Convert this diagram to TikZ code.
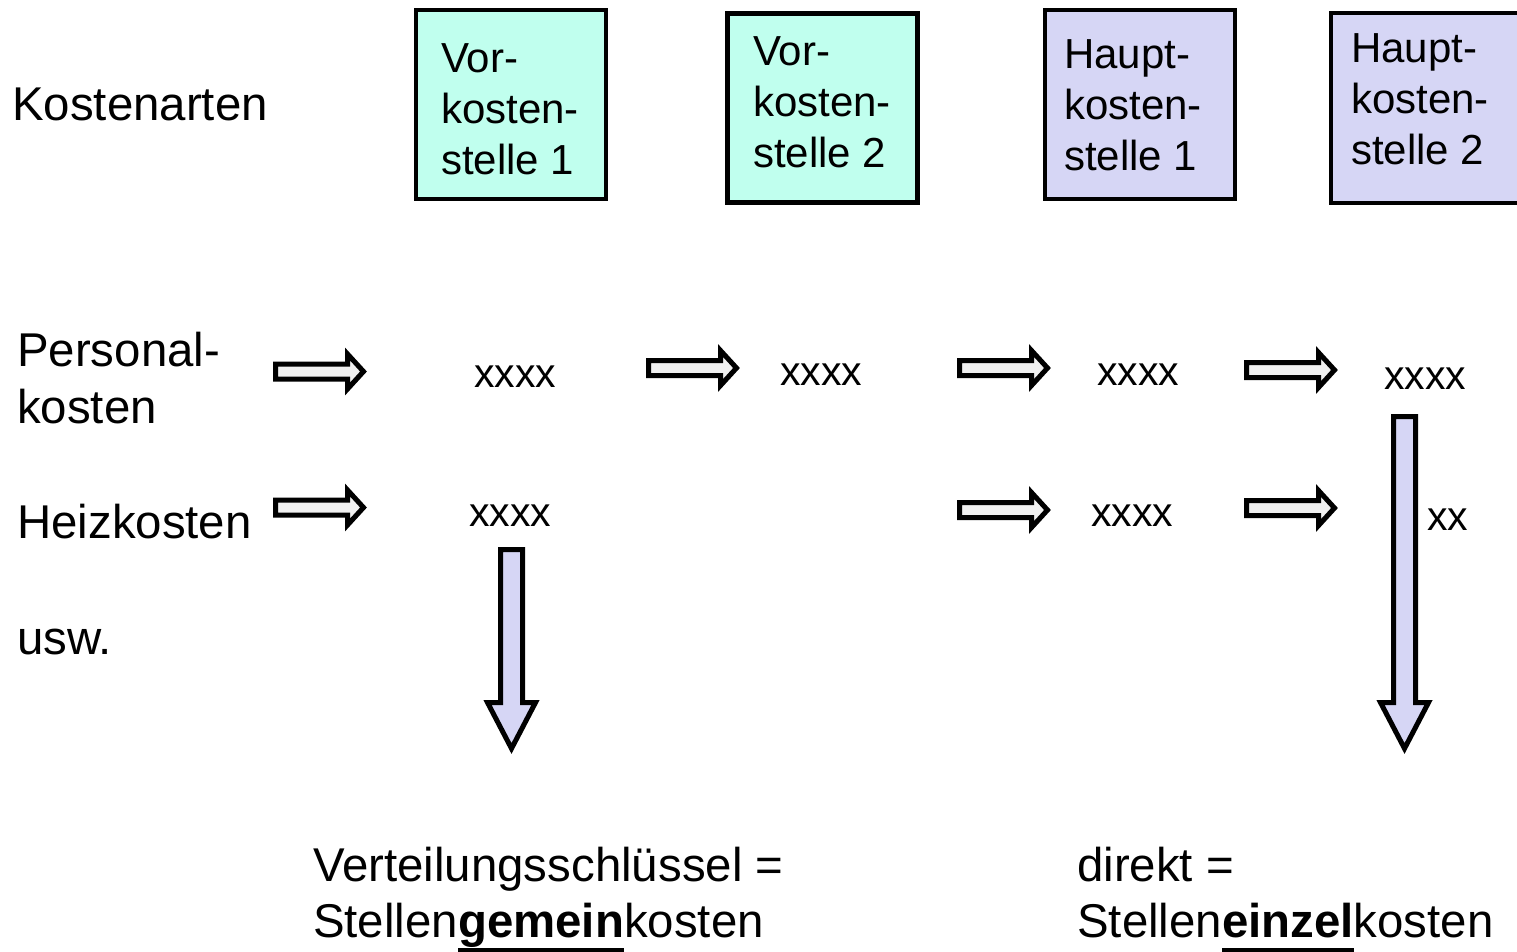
\documentclass[tikz,border=0pt]{standalone}
\usepackage{fontspec}
\setmainfont{Liberation Sans}

\definecolor{vorfill}{RGB}{192,255,238}
\definecolor{hauptfill}{RGB}{214,214,245}
\definecolor{arrowgray}{RGB}{240,240,240}

% font sizes (1pt = 1 unit of the drawing)
\newcommand\bigtxt{\fontsize{47.4}{57}\selectfont}
\newcommand\boxtxt{\fontsize{42}{51}\selectfont}
\newcommand\marktxt{\fontsize{41}{49}\selectfont}
% bold word with a heavy underline at a fixed depth
\newcommand\ulword[1]{\setbox0\hbox{\bfseries #1}\rlap{\rule[-15pt]{\wd0}{4pt}}\box0}

\tikzset{
  costbox/.style={draw=black, line width=4.5pt, minimum width=190pt, minimum height=189pt, inner sep=0pt},
  vorbox/.style={costbox, fill=vorfill},
  hauptbox/.style={costbox, fill=hauptfill},
  boxlabel/.style={anchor=north west, inner sep=0pt, align=left, font=\boxtxt},
  rowlabel/.style={anchor=base west, inner sep=0pt, font=\bigtxt},
  amount/.style={anchor=base west, inner sep=0pt, font=\marktxt},
  arrowline/.style={draw=black, line width=5pt, line join=miter, miter limit=10},
  pics/flowarrow/.style={code={
    \path[arrowline, fill=arrowgray] (0,-7.5) -- (72,-7.5) -- (72,-17.5) -- (88,0)
      -- (72,17.5) -- (72,7.5) -- (0,7.5) -- cycle;}},
  pics/droparrow/.style={code={
    \path[arrowline, fill=hauptfill] (-11,0) -- ({-11},{#1-46}) -- ({-24},{#1-46})
      -- (0,#1) -- ({24},{#1-46}) -- ({11},{#1-46}) -- (11,0) -- cycle;}}
}

\begin{document}
\begin{tikzpicture}[x=1pt,y=-1pt]
  \useasboundingbox (0,0) rectangle (1517,951);
  \clip (0,0) rectangle (1517,951);

  % cost centre boxes
  \node[vorbox]   (v1) at (511,104.5) {};
  \node[vorbox]   (v2) at (822.5,108) {};
  \node[hauptbox] (h1) at (1140,104.5) {};
  \node[hauptbox, minimum height=190pt] (h2) at (1426,108) {};

  \node[boxlabel] (v1t) at (441,43) {Vor-\\kosten-\\stelle 1};
  \node[boxlabel] (v2t) at (753,36) {Vor-\\kosten-\\stelle 2};
  \node[boxlabel] (h1t) at (1064,39) {Haupt-\\kosten-\\stelle 1};
  \node[boxlabel] (h2t) at (1351,33) {Haupt-\\kosten-\\stelle 2};

  % cost types
  \node[rowlabel] (arten) at (12,120) {Kostenarten};
  \node[rowlabel] (pers1) at (17,366) {Personal-};
  \node[rowlabel] (pers2) at (17,423) {kosten};
  \node[rowlabel] (heiz)  at (17,538) {Heizkosten};
  \node[rowlabel] (usw)   at (17,654) {usw.};

  % amounts
  \node[amount] (p1) at (474,387) {xxxx};
  \node[amount] (p2) at (780,385) {xxxx};
  \node[amount] (p3) at (1097,385) {xxxx};
  \node[amount] (p4) at (1384,389) {xxxx};
  \node[amount] (k1) at (469,526) {xxxx};
  \node[amount] (k3) at (1091,526) {xxxx};
  \node[amount] (k4) at (1427,530) {xx};

  % distribution arrows
  \pic at (275.5,371.5) {flowarrow};
  \pic at (648.5,368)   {flowarrow};
  \pic at (959.5,368)   {flowarrow};
  \pic at (1246.5,370)  {flowarrow};
  \pic at (275.5,507.5) {flowarrow};
  \pic at (959.5,510)   {flowarrow};
  \pic at (1246.5,508)  {flowarrow};

  % allocation arrows
  \pic at (511.5,549.5) {droparrow=199};
  \pic at (1404.5,416.5) {droparrow=332};

  % conclusions
  \node[rowlabel] (gem1) at (313,881) {Verteilungsschlüssel =};
  \node[rowlabel] (gem2) at (313,937) {Stellen\ulword{gemein}kosten};
  \node[rowlabel] (ein1) at (1077,881) {direkt =};
  \node[rowlabel] (ein2) at (1077,937) {Stellen\ulword{einzel}kosten};
\end{tikzpicture}
\end{document}
